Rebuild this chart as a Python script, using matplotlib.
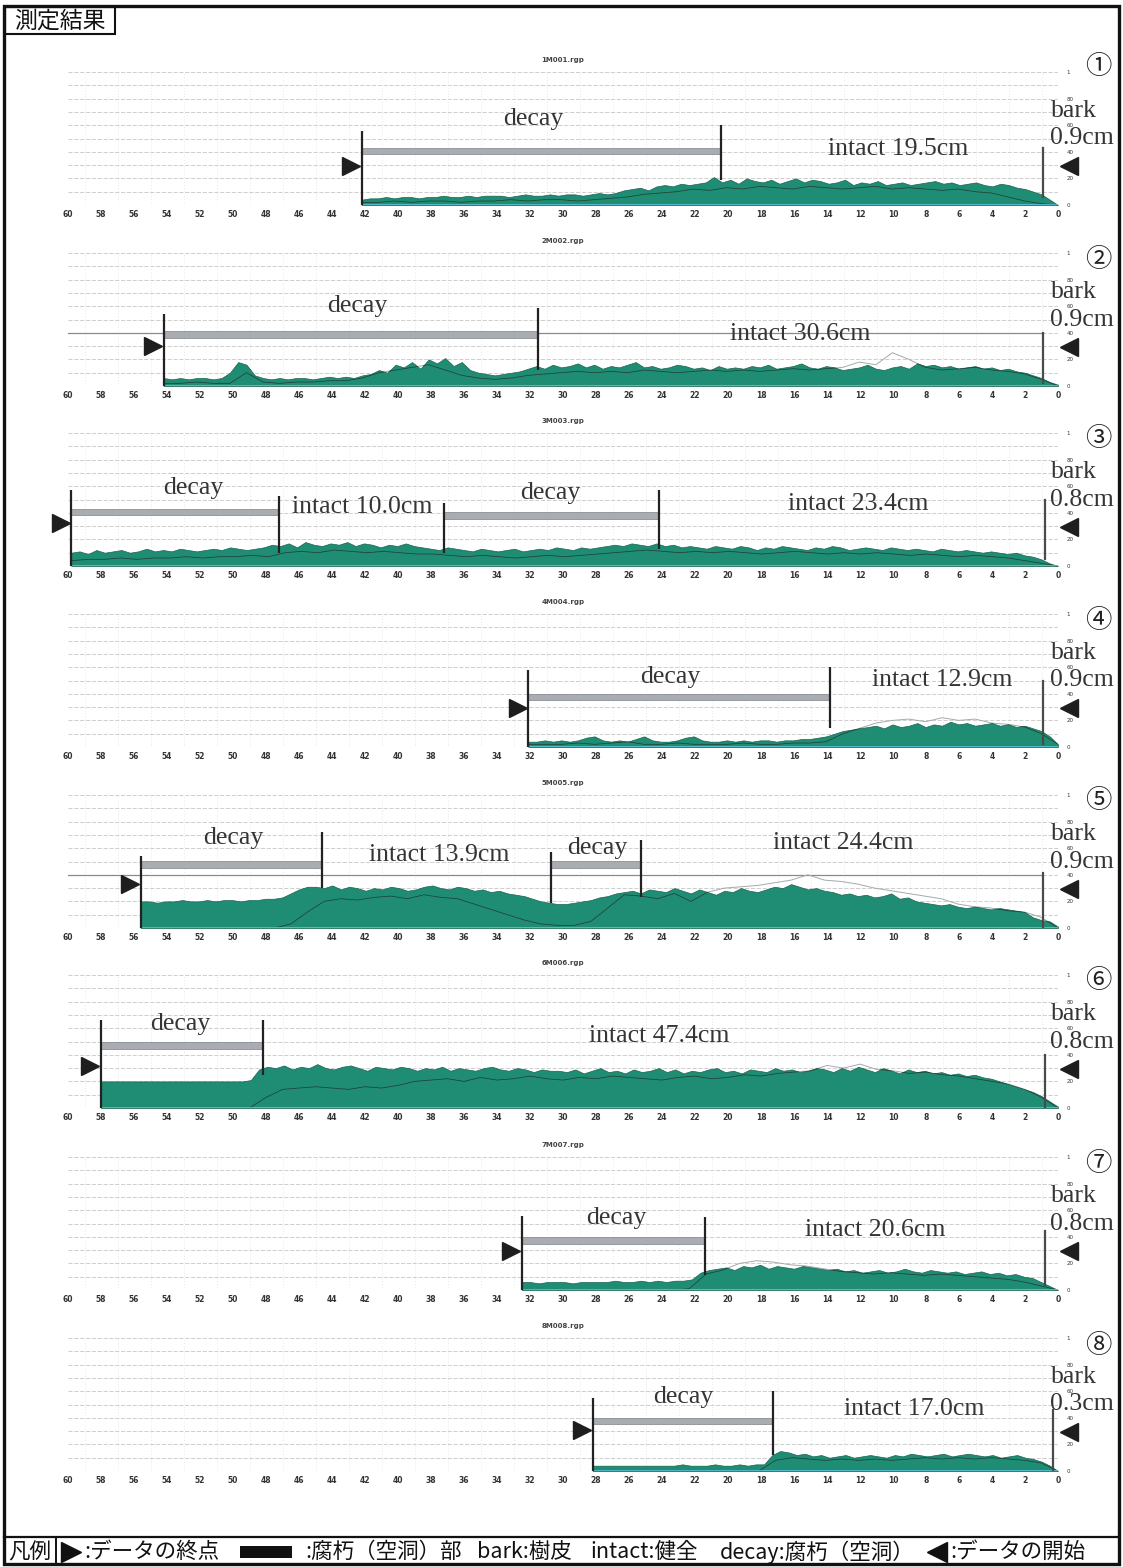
import numpy as np
import matplotlib
matplotlib.use("Agg")
import matplotlib.pyplot as plt
from matplotlib.patches import Rectangle

plt.rcParams['font.family'] = ['Noto Sans CJK JP', 'DejaVu Sans']
SERIF = ['Liberation Serif', 'DejaVu Serif']

# ---- measurement data (depth in cm, resistance amplitude in %) ----
files = ["1M001.rgp", "2M002.rgp", "3M003.rgp", "4M004.rgp",
         "5M005.rgp", "6M006.rgp", "7M007.rgp", "8M008.rgp"]
numbers = ["①", "②", "③", "④", "⑤", "⑥", "⑦", "⑧"]
bark = [0.9, 0.9, 0.8, 0.9, 0.9, 0.8, 0.8, 0.3]
intact = [[19.5], [30.6], [10.0, 23.4], [12.9], [13.9, 24.4], [47.4], [20.6], [17.0]]
decay_spans = [[(42.2, 20.4)], [(54.2, 31.5)], [(59.8, 47.2), (37.2, 24.2)],
               [(32.1, 13.8)], [(55.6, 44.6), (30.7, 25.3)], [(58.0, 48.2)],
               [(32.5, 21.4)], [(28.2, 17.3)]]

# amplitude, listed from the deepest point towards the bark (0.5 cm steps)
amp1 = [4, 5, 5, 6, 5, 6, 6, 5, 6, 6, 7, 6, 6, 7, 6, 7, 7,
        7, 6, 7, 8, 7, 7, 8, 7, 8, 8, 7, 8, 9, 8, 9, 11,
        12, 13, 11, 14, 15, 14, 16, 15, 16, 17, 21,
        17, 19, 16, 20, 18, 17, 19, 16, 18, 20, 17, 19, 18, 16, 17, 19, 15, 17, 16, 18, 15,
        16, 17, 15, 16, 17, 18, 16, 17, 15, 16, 17, 15, 14, 16, 15, 13, 12, 10, 8, 4, 0]
amp2 = [6, 5, 6, 5, 6, 6, 5, 6,
        10, 18, 16, 8,
        6, 5, 6, 5, 6, 6, 5, 6, 7, 6, 7, 6, 8,
        9, 12, 10, 16, 14, 18, 13, 20, 17,
        21, 15, 18, 12, 10, 9, 8,
        9, 10, 11, 13,
        15, 13, 16, 14, 15, 17, 14, 16, 13, 15, 14, 16, 18, 14, 15, 13, 14, 16, 15, 13,
        14, 12, 15, 13, 14, 13, 15, 14, 16, 13, 14, 15, 17, 14, 13, 15, 14, 12, 13, 14,
        16, 13, 12, 14, 15, 13, 17, 15, 16, 14, 15, 13, 14, 15, 13, 14, 12, 13, 11, 10,
        8, 6, 3, 1]
amp3 = [10, 11, 9, 12, 10, 11, 12, 10, 11, 13, 11, 12, 11, 13, 12, 11, 12, 13, 12, 14, 13, 12, 13, 14,
        16, 15, 17, 14, 18, 16, 15, 17, 16, 18, 15, 17, 16, 14, 16, 15, 17, 15, 14,
        13, 12, 14, 13, 12, 11, 13, 12, 11, 12, 13, 11, 12, 13, 12, 14, 13, 12, 14, 13,
        14, 15, 16, 15, 17, 16, 15, 17, 15, 16, 14, 15,
        14, 13, 15, 14, 13, 15, 14, 12, 14, 13, 15, 14, 13, 12, 14, 13, 15, 14, 12, 13, 14, 13,
        12, 14, 13, 12, 13, 12, 11, 13, 12, 11, 12, 11, 10, 11, 10, 9, 10, 8, 7, 5, 2, 0]
amp4 = [4, 4, 5, 4, 5, 4, 5, 7, 8, 5, 4, 5, 4, 6, 8, 5, 4, 4, 5, 7, 8, 5, 4, 4, 5, 4, 5, 4, 5,
        5, 4, 5, 5, 6, 6, 7, 8,
        10, 12, 13, 14,
        15, 16, 14, 17, 15, 16, 18, 15, 17, 16, 19, 17, 18, 16, 17, 18, 16, 17, 15, 16, 14, 12, 8, 2]
amp5 = [20, 20, 19, 20, 20, 21, 20, 20, 21, 20, 21, 21, 20, 21, 21, 22, 22, 23,
        26, 29, 31,
        31, 30, 32, 29, 31, 30, 28, 30, 29, 31, 30, 28, 29, 31, 32, 30, 29, 31, 30, 28,
        29, 27, 28, 26, 25, 24, 22, 20,
        19, 18, 18, 19, 20, 21, 23, 24,
        26, 27, 28, 26, 29, 28, 27, 30, 28, 26, 29, 27, 25, 28, 27, 30, 28, 27,
        29, 31, 30, 33, 31, 29, 30, 28,
        27, 25, 26, 24, 25, 23, 24, 26, 22, 23,
        20, 19, 18, 17, 18, 16, 15, 16, 15, 14, 15, 14, 13, 12,
        8, 6, 5, 1]
amp6 = [20, 20, 20, 20, 20, 20, 20, 20, 20, 20, 20, 20, 20, 20, 20, 20, 20, 20, 21,
        29, 31, 30, 32, 29, 31, 30, 33, 30, 29, 31, 32, 30, 28, 31, 30, 29, 31, 30, 28,
        30, 29, 31, 28, 30, 29, 28, 30, 31, 29, 28, 30, 29, 27, 29, 28,
        28, 27, 29, 26, 28, 30, 27, 28, 26, 29, 27, 28, 30, 27, 29, 26, 28, 27, 29, 30,
        27, 28, 26, 29, 28, 27, 30, 28, 29, 27, 28, 30,
        29, 27, 30, 28, 31, 29, 27, 30, 28, 26, 29, 27, 28, 26, 27, 25, 26, 24, 25, 23, 22, 20,
        18, 16, 14, 12, 9, 5, 1]
amp7 = [6, 6, 5, 6, 6, 6, 5, 6, 6, 6, 6, 7, 6, 6, 7, 6, 7, 6, 7, 7, 8,
        13, 15,
        16, 17, 15, 18, 17, 19, 16, 18, 17, 16, 18, 17, 16, 15,
        16, 14, 15, 13, 14, 15, 13, 14, 16, 14, 13, 15, 14, 13, 14, 12, 13, 14, 12, 13,
        11, 12, 10, 9, 6, 3, 0]
amp8 = [4, 4, 4, 4, 4, 4, 4, 4, 4, 4, 4, 5, 4, 4, 4, 5, 4, 4, 5, 4, 5, 5,
        12, 15,
        14, 12, 13, 11, 12, 10, 11, 12, 10, 11, 12, 11, 10, 12, 11, 13, 12, 11, 12, 13,
        11, 12, 13, 12, 11, 12, 10, 11, 12, 10, 9, 7, 4, 0]

# feed curve, from the deepest point towards the bark (1 cm steps)
feed1 = [2, 2, 3, 2, 3, 3, 2, 3, 3, 4, 3, 4, 4, 3, 4, 5, 6, 8, 9, 10, 12, 11, 13, 12,
         14, 13, 12, 14, 13, 12, 13, 14, 12, 13, 12, 11, 12, 10, 9, 6, 3, 1, 0]
feed2 = [2, 2, 3, 2, 2, 10, 3, 2, 3, 3, 4, 4, 6, 10, 12, 14, 16, 12, 8, 6, 5, 6,
         8, 9, 10, 11, 10, 11, 10, 12, 11, 10, 11, 12, 11, 12, 11, 12, 13, 12, 13, 14,
         18, 16, 25, 20, 14, 12, 13, 14, 12, 11, 9, 5, 0]
feed3 = [4, 5, 5, 6, 5, 6, 6, 7, 6, 7, 7, 8, 7,
         10, 11, 10, 12, 11, 10, 11, 10, 9, 9,
         8, 7, 8, 7, 6, 7, 8, 7, 8, 9,
         10, 11, 12, 11, 10, 11,
         10, 11, 10, 9, 10, 11, 10, 9, 10, 9, 10, 9, 8, 9, 8, 7, 8, 7, 6, 4, 2, 0]
feed4 = [2, 2, 2, 3, 2, 3, 4, 2, 2, 3, 2, 2, 2, 3, 2, 2, 3, 3, 4,
         10, 14, 18, 20, 21, 19, 22, 20, 21, 18, 17, 15, 10, 2]
feed5 = [0, 0, 0, 0, 0, 0, 0, 0, 0, 3, 12, 20, 22, 21, 23, 24, 22, 25, 23, 22,
         18, 14, 10, 6, 3, 2, 2, 5, 15, 25, 24, 22, 26, 20, 27,
         30, 31, 32, 34, 36, 40, 36, 35, 33, 30, 28, 26, 24, 22,
         18, 16, 15, 13, 12, 8, 0]
feed6 = [0, 0, 0, 0, 0, 0, 0, 0, 0, 0, 8, 14, 15, 16, 15, 14, 16, 15, 17,
         20, 21, 22, 20, 23, 21, 22, 24, 22, 21, 23, 22, 24, 23, 22, 21, 23, 24, 22, 23,
         25, 24, 26, 27, 28, 32, 30, 33, 29, 28, 26, 27, 25, 24, 22, 20, 18, 14, 8, 0]
feed7 = [0, 0, 0, 0, 0, 0, 0, 0, 0, 0, 1, 12, 15, 20, 22, 21, 19, 18, 16,
         14, 13, 12, 13, 12, 11, 12, 11, 10, 9, 8, 6, 3, 0]
feed8 = [0, 0, 0, 0, 0, 0, 0, 0, 0, 0, 0, 8, 10, 9, 8, 9, 8, 9, 8, 9, 10, 9, 10,
         9, 10, 9, 8, 6, 0]

amps = [amp1, amp2, amp3, amp4, amp5, amp6, amp7, amp8]
feeds = [feed1, feed2, feed3, feed4, feed5, feed6, feed7, feed8]

# ---- label placement (depth cm, amplitude %) ----
decay_xy = [[(31.8, 65)], [(42.5, 60)], [(52.4, 59), (30.8, 55)], [(23.5, 53)],
            [(50.0, 68), (27.9, 60)], [(53.2, 63)], [(26.8, 54)], [(22.7, 56)]]
intact_xy = [[(9.7, 42)], [(15.6, 39)], [(42.2, 44), (12.1, 46.6)], [(7.0, 50)],
             [(37.5, 55), (13.0, 64)], [(24.2, 54)], [(11.1, 45)], [(8.7, 46.6)]]
bar_y = [[40.6], [39], [40.6, 38], [37.6], [48, 48], [47], [37], [37.6]]
edge_y = [[(0, 56), (19, 60)], [(0, 54), (12, 59)], [(0, 57), (10, 53), (10, 47), (13, 57)],
          [(0, 58), (14, 60)], [(0, 54), (30, 72), (19, 57), (23, 66)],
          [(0, 66), (25, 66)], [(0, 56), (11, 55)], [(0, 55), (12, 60)]]
bark_line_y = [(6, 43), (2, 40), (5, 50), (2, 50), (0, 41), (0, 40), (4, 44), (0, 46)]
end_mark_y = [29, 30, 32, 29, 33, 31.6, 29, 31]
num_y = [104, 95, 96, 95, 95.5, 95.5, 95, 94]
dark_40 = [1, 4]

W, H = 1123, 1567
base_px = [205, 386, 566, 747, 928, 1108, 1290, 1471]
X0, X1, HP = 68, 1058, 133

TEAL = '#1f8d73'
TXT = '#353535'
fig = plt.figure(figsize=(W / 100, H / 100), dpi=100)

for i in range(8):
    ax = fig.add_axes([X0 / W, 1 - base_px[i] / H, (X1 - X0) / W, HP / H])
    ax.set_xlim(60, 0)
    ax.set_ylim(0, 100)
    for s in ax.spines.values():
        s.set_visible(False)

    # grid
    for y in range(10, 101, 10):
        ax.axhline(y, color='#c6c6c6', lw=0.6, ls=(0, (5, 2)), zorder=0.5)
    for x in range(1, 60, 2):
        ax.axvline(x, color='#d4d4d4', lw=0.5, ls=(0, (1, 3)), zorder=0.5)
    if i in dark_40:
        ax.plot([60, bark[i]], [40, 40], color='#8a8a8a', lw=0.9, zorder=0.6)

    end = decay_spans[i][0][0]
    amp = amps[i]
    d = np.linspace(end, 0, len(amp))
    poly = ax.fill_between(d, 0, amp, facecolor=TEAL, edgecolor='#17634f',
                           lw=0.5, zorder=2)
    feed = feeds[i]
    fd = np.linspace(end, 0, len(feed))
    ax.plot(fd, feed, color='#a4aaac', lw=0.7, zorder=1.5)
    inner, = ax.plot(fd, feed, color='#1f4038', lw=0.55, zorder=2.5)
    inner.set_clip_path(poly.get_paths()[0], ax.transData)
    ax.plot([end, 0], [0, 0], color='#5ac4d8', lw=1.2, zorder=2.6)

    # decay bars and boundary lines
    k = 0
    for j, (s, e) in enumerate(decay_spans[i]):
        y = bar_y[i][j]
        ax.add_patch(Rectangle((e, y - 2.6), s - e, 5.2, facecolor='#a9adb2',
                               edgecolor='#8b9095', lw=0.6, zorder=3))
        for x in (s, e):
            y0, y1 = edge_y[i][k]
            ax.plot([x, x], [y0, y1], color='#222222', lw=1.6, zorder=4,
                    clip_on=False, solid_capstyle='butt')
            k += 1
        dx, dy = decay_xy[i][j]
        ax.text(dx, dy, 'decay', fontsize=18.5, family=SERIF, color=TXT,
                ha='center', va='center', zorder=5)
    for j, L in enumerate(intact[i]):
        tx, ty = intact_xy[i][j]
        ax.text(tx, ty, f'intact {L:.1f}cm', fontsize=18.5, family=SERIF,
                color=TXT, ha='center', va='center', zorder=5)

    # bark
    b0, b1 = bark_line_y[i]
    ax.plot([bark[i], bark[i]], [b0, b1], color='#4a4a4a', lw=1.6, zorder=4)
    ax.text(0.45, 71, 'bark', fontsize=18.5, family=SERIF, color=TXT,
            ha='left', va='center', clip_on=False)
    ax.text(0.5, 50, f'{bark[i]}cm', fontsize=18.5, family=SERIF, color=TXT,
            ha='left', va='center', clip_on=False)

    ax.plot([end + 0.65], [end_mark_y[i]], marker='>', ms=13, color='#1e1e1e',
            clip_on=False, zorder=5)
    ax.plot([-0.65], [29], marker='<', ms=13, color='#1e1e1e',
            clip_on=False, zorder=5)
    ax.text(-2.45, num_y[i], numbers[i], fontsize=19, ha='center', va='center',
            color='#222222', clip_on=False)
    ax.text(30, 109, files[i], fontsize=5, ha='center', va='center',
            family='DejaVu Sans', fontweight='bold', color='#444444', clip_on=False)

    ax.set_xticks(range(0, 61, 2))
    ax.set_xticklabels([str(v) for v in range(0, 61, 2)], fontsize=5.5,
                       fontweight='bold', family='DejaVu Sans', color='#333333')
    ax.tick_params(axis='x', length=0, pad=3.5)
    ax.yaxis.tick_right()
    ax.set_yticks([0, 20, 40, 60, 80, 100])
    ax.set_yticklabels(['0', '20', '40', '60', '80', '1'], fontsize=4,
                       family='DejaVu Sans', color='#333333')
    ax.tick_params(axis='y', length=0, pad=6)

# page frame, title box and legend strip
ov = fig.add_axes([0, 0, 1, 1], zorder=10)
ov.set_xlim(0, W)
ov.set_ylim(H, 0)
ov.axis('off')
ov.patch.set_alpha(0)
ov.add_patch(Rectangle((4, 6), 1115, 1558, fill=False, lw=2.4, edgecolor='#111111'))
ov.add_patch(Rectangle((5, 7), 110, 27, fill=False, lw=1.5, edgecolor='#111111'))
ov.text(60, 21, '測定結果', fontsize=16.5, ha='center', va='center', color='#111111')

ov.plot([4, 1119], [1537, 1537], color='#111111', lw=1.6)
ov.plot([56, 56], [1537, 1564], color='#111111', lw=1.4)
ly = 1552
ov.text(8, ly, '凡例', fontsize=15.5, ha='left', va='center', color='#111111')
ov.plot([71], [ly], marker='>', ms=14, color='#111111')
ov.text(84, ly, ':データの終点', fontsize=15.5, ha='left', va='center', color='#111111')
ov.add_patch(Rectangle((240, 1546), 52, 12, facecolor='#111111'))
ov.text(305, ly, ':腐朽（空洞）部', fontsize=15.5, ha='left', va='center', color='#111111')
ov.text(477, ly, 'bark:樹皮', fontsize=15.5, ha='left', va='center', color='#111111')
ov.text(590, ly, 'intact:健全', fontsize=15.5, ha='left', va='center', color='#111111')
ov.text(720, ly, 'decay:腐朽（空洞）', fontsize=15.5, ha='left', va='center', color='#111111')
ov.plot([937], [ly], marker='<', ms=14, color='#111111')
ov.text(950, ly, ':データの開始', fontsize=15.5, ha='left', va='center', color='#111111')

fig.savefig('out.png', dpi=100)
